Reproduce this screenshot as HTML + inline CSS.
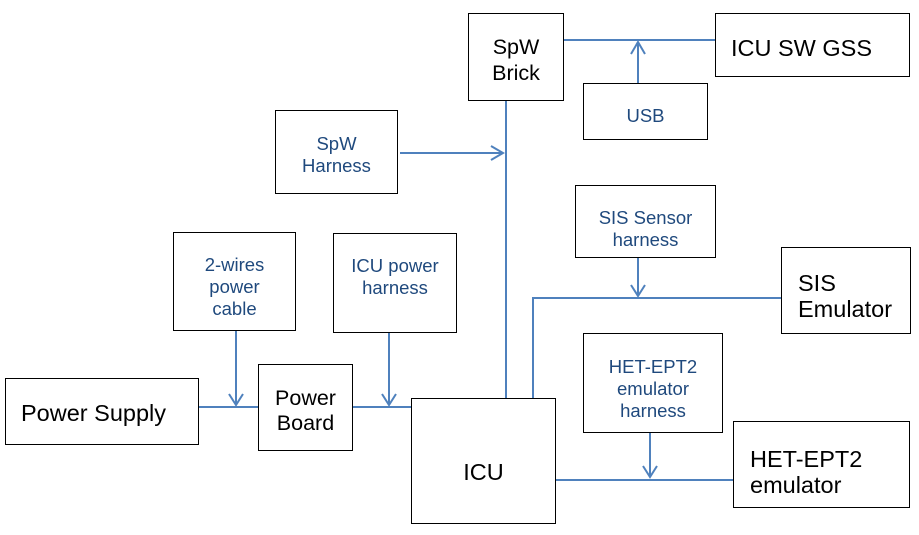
<!DOCTYPE html>
<html><head><style>
body{margin:0;width:919px;height:535px;background:#fff;position:relative;overflow:hidden;font-family:"Liberation Sans",sans-serif}
.b{position:absolute;box-sizing:border-box;border:1px solid #000;background:#fff;display:flex;align-items:center;justify-content:center;text-align:center;color:#1f497d;font-size:18.5px;line-height:22px}
.k{color:#000;font-size:23.5px;line-height:26px}
svg{position:absolute;left:0;top:0}
</style></head><body>
<svg width="919" height="535" stroke="#4f81bd" stroke-width="2" fill="none">
<line x1="506" y1="100" x2="506" y2="398"/>
<line x1="400" y1="153" x2="503" y2="153"/><polyline points="491,146 503,153 491,160"/>
<line x1="563" y1="40" x2="715" y2="40"/>
<line x1="638" y1="83" x2="638" y2="43"/><polyline points="631,54 638,42 645,54"/>
<polyline points="533,398 533,298 781,298"/>
<line x1="638" y1="257" x2="638" y2="296"/><polyline points="631,285 638,296 645,285"/>
<line x1="555" y1="480" x2="733" y2="480"/>
<line x1="650" y1="432" x2="650" y2="477"/><polyline points="643,466 650,477 657,466"/>
<line x1="198" y1="407" x2="258" y2="407"/>
<line x1="236" y1="330" x2="236" y2="405"/><polyline points="229,394 236,405 243,394"/>
<line x1="352" y1="407" x2="411" y2="407"/>
<line x1="389" y1="332" x2="389" y2="405"/><polyline points="382,394 389,405 396,394"/>
</svg>
<div class="b k" style="left:468px;top:13px;width:96px;height:88px;font-size:21.5px;padding-top:6px">SpW<br>Brick</div>
<div class="b k" style="left:715px;top:13px;width:195px;height:64px;padding-top:6px;justify-content:flex-start;padding-left:15px">ICU SW GSS</div>
<div class="b" style="left:583px;top:83px;width:125px;height:57px;padding-top:8px">USB</div>
<div class="b" style="left:275px;top:110px;width:123px;height:84px;padding-top:6px">SpW<br>Harness</div>
<div class="b" style="left:575px;top:185px;width:141px;height:73px;padding-top:14px">SIS Sensor<br>harness</div>
<div class="b k" style="left:781px;top:247px;width:130px;height:87px;justify-content:flex-start;text-align:left;padding-left:16px;padding-top:10px">SIS<br>Emulator</div>
<div class="b" style="left:173px;top:232px;width:123px;height:99px;padding-top:10px">2-wires<br>power<br>cable</div>
<div class="b" style="left:333px;top:233px;width:124px;height:100px;padding-bottom:12px">ICU power<br>harness</div>
<div class="b" style="left:583px;top:333px;width:140px;height:100px;padding-top:12px">HET-EPT2<br>emulator<br>harness</div>
<div class="b k" style="left:5px;top:378px;width:194px;height:67px;justify-content:flex-start;padding-left:15px;padding-top:3px">Power Supply</div>
<div class="b k" style="left:258px;top:364px;width:95px;height:87px;font-size:21.5px;line-height:25px;padding-top:6px">Power<br>Board</div>
<div class="b k" style="left:411px;top:398px;width:145px;height:126px;padding-top:22px">ICU</div>
<div class="b k" style="left:733px;top:421px;width:177px;height:87px;justify-content:flex-start;text-align:left;padding-left:16px;padding-top:14px">HET-EPT2<br>emulator</div>
</body></html>
